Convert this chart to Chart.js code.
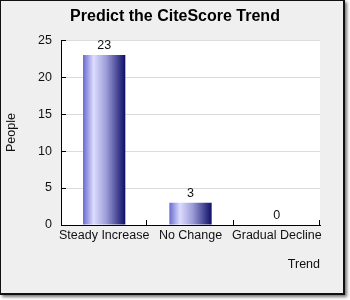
<!DOCTYPE html>
<html>
<head>
<meta charset="utf-8">
<script src="https://cdn.jsdelivr.net/npm/chart.js@4/dist/chart.umd.min.js"></script>
<style>
  body { margin: 0; background: #fff; }
  .frame {
    position: absolute; left: 0; top: 0;
    width: 345px; height: 295px; box-sizing: border-box;
    background: #efefef;
    border: 1px solid #111;
    border-right-width: 2px; border-bottom-width: 2px;
    box-shadow: 2px 2px 3px rgba(0,0,0,0.55);
  }
  canvas { position: absolute; left: 0; top: 0; }
</style>
</head>
<body>
<div class="frame"></div>
<canvas id="chart" width="350" height="300"></canvas>
<script>
  // chart data
  const CATEGORIES = ['Steady Increase', 'No Change', 'Gradual Decline'];
  const PEOPLE = [23, 3, 0];
  const Y_TICKS = [0, 5, 10, 15, 20, 25];

  const FONT = "'Liberation Sans', Arial, sans-serif";
  const SIZE = 12.5;
  const BAR_PCT = 0.49;

  function barGradient(c) {
    const { chart, dataIndex } = c;
    if (!chart.chartArea) return '#9a9ad8';
    const xs = chart.scales.x;
    const cx = xs.getPixelForValue(dataIndex);
    const half = (xs.width / CATEGORIES.length) * BAR_PCT / 2;
    const g = chart.ctx.createLinearGradient(cx - half, 0, cx + half, 0);
    g.addColorStop(0, '#6a6ad0');
    g.addColorStop(0.25, '#dcdcff');
    g.addColorStop(0.55, '#9c9cd8');
    g.addColorStop(1, '#0e0e68');
    return g;
  }

  // white plot area, inward tick marks, value labels
  const decor = {
    id: 'decor',
    beforeDraw(chart) {
      const { ctx, chartArea: a } = chart;
      ctx.save();
      ctx.fillStyle = '#fff';
      ctx.fillRect(a.left, a.top, a.right - a.left, a.bottom - a.top);
      ctx.restore();
    },
    afterDraw(chart) {
      const { ctx, chartArea: a, scales } = chart;
      ctx.save();
      ctx.strokeStyle = '#000';
      ctx.lineWidth = 1;
      ctx.beginPath();
      Y_TICKS.forEach(v => {
        const y = Math.round(scales.y.getPixelForValue(v)) + 0.5;
        ctx.moveTo(a.left, y);
        ctx.lineTo(a.left + 5, y);
      });
      const step = scales.x.width / CATEGORIES.length;
      CATEGORIES.forEach((_, i) => {
        const x = Math.round(scales.x.getPixelForValue(i) + step / 2) - 0.5;
        ctx.moveTo(x, a.bottom);
        ctx.lineTo(x, a.bottom - 5);
      });
      ctx.stroke();
      ctx.restore();
    },
    afterDatasetsDraw(chart) {
      const { ctx } = chart;
      const meta = chart.getDatasetMeta(0);
      ctx.save();
      ctx.fillStyle = '#111';
      ctx.font = SIZE + 'px ' + FONT;
      ctx.textAlign = 'center';
      ctx.textBaseline = 'bottom';
      meta.data.forEach((bar, i) => {
        ctx.fillText(String(PEOPLE[i]), bar.x, bar.y - 3);
      });
      ctx.restore();
    }
  };

  new Chart(document.getElementById('chart'), {
    type: 'bar',
    data: {
      labels: CATEGORIES,
      datasets: [{
        data: PEOPLE,
        backgroundColor: barGradient,
        borderWidth: 0,
        categoryPercentage: 1,
        barPercentage: BAR_PCT,
      }]
    },
    options: {
      responsive: false,
      animation: false,
      layout: { padding: 0 },
      plugins: {
        legend: { display: false },
        tooltip: { enabled: false },
        title: {
          display: true,
          text: 'Predict the CiteScore Trend',
          color: '#000',
          font: { family: FONT, size: 16, weight: 'bold' },
          padding: { top: 7, bottom: 14 },
        }
      },
      scales: {
        x: {
          grid: { display: false, drawTicks: false },
          border: { color: '#000', width: 1 },
          ticks: { color: '#111', font: { family: FONT, size: SIZE }, padding: 3, maxRotation: 0, autoSkip: false },
          title: {
            display: true, text: 'Trend', align: 'end', color: '#111',
            font: { family: FONT, size: SIZE }, padding: { top: 0, bottom: 28 }
          },
          afterFit: s => { s.height = 75; }
        },
        y: {
          min: 0, max: 25,
          grid: { color: '#dcdcdc', drawTicks: false },
          border: { color: '#000', width: 1 },
          ticks: { stepSize: 5, color: '#111', font: { family: FONT, size: SIZE }, padding: 9 },
          title: {
            display: true, text: 'People', color: '#111',
            font: { family: FONT, size: SIZE }, padding: { top: 4, bottom: 0 }
          },
          afterFit: s => { s.width = 61; }
        },
        spacer: {
          position: 'right',
          grid: { display: false },
          border: { display: false },
          ticks: { display: false },
          afterFit: s => { s.width = 30; }
        }
      }
    },
    plugins: [decor]
  });
</script>
</body>
</html>
